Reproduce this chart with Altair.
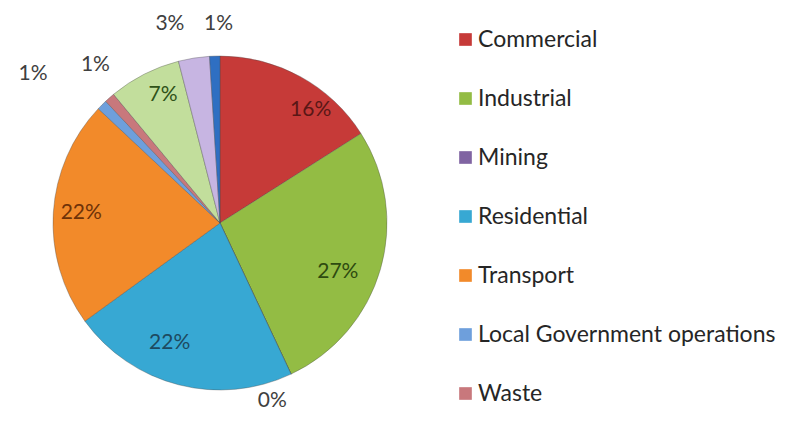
import altair as alt
import pandas as pd

categories = ["Commercial", "Industrial", "Mining", "Residential", "Transport",
              "Local Government operations", "Waste", "Agriculture", "Fugitive emissions", "Other"]
shares = [16, 27, 0, 22, 22, 1, 1, 7, 3, 1]
labels = ["16%", "27%", "0%", "22%", "22%", "1%", "1%", "7%", "3%", "1%"]
legend_items = categories[:7]

slice_colors = ["#C63A38", "#93BC44", "#8064A2", "#37A8D3", "#F28A2A",
                "#6E9FDC", "#C8787C", "#C2DE9C", "#C7B5E2", "#2F6FC2"]
label_colors = ["#5A1716", "#2E4A10", "#404040", "#1D4A60", "#6E3208",
                "#404040", "#404040", "#2F5218", "#404040", "#404040"]

# label placement style: (radius, dx, dy) per category
label_style = {
    "Commercial": (130, 28, 1),
    "Industrial": (130, -7, 13),
    "Residential": (130, -18, -6),
    "Transport": (130, -9, -2),
    "Agriculture": (130, 2, -12),
    "Mining": (205, -35, -7),
    "Local Government operations": (205, -42, -4),
    "Waste": (205, 11, -4),
    "Fugitive emissions": (205, -18, 3),
    "Other": (205, 5, 6),
}

df = pd.DataFrame({"category": categories, "share": shares, "label": labels,
                   "idx": list(range(len(categories)))})

FONT = "Lato"
cx, cy = 212, 215

theta = alt.Theta("share:Q", stack=True)
order = alt.Order("idx:Q", sort="ascending")

base = alt.Chart(df)

pie = base.mark_arc(outerRadius=167, stroke="#4a4a4a", strokeWidth=0.6, strokeOpacity=0.6).encode(
    theta=theta,
    order=order,
    x=alt.value(cx), y=alt.value(cy),
    color=alt.Color("category:N", sort=categories,
                    scale=alt.Scale(domain=categories, range=slice_colors),
                    legend=alt.Legend(values=legend_items, title=None, orient="none",
                                      legendX=446, legendY=20, symbolType="square",
                                      symbolSize=160, symbolStrokeWidth=0,
                                      labelFont=FONT, labelFontSize=23, labelColor="#262626",
                                      rowPadding=35, labelOffset=1, padding=0,
                                      labelLimit=400)),
)

def text_layer(cat):
    radius, dx, dy = label_style[cat]
    return base.transform_calculate(
        shown=f"datum.category == '{cat}' ? datum.label : ''"
    ).mark_text(radius=radius, font=FONT, fontSize=21, dx=dx, dy=dy).encode(
        theta=theta,
        order=order,
        x=alt.value(cx), y=alt.value(cy),
        text="shown:N",
        color=alt.Color("category:N", scale=alt.Scale(domain=categories, range=label_colors),
                        legend=None),
    )

layers = [pie] + [text_layer(c) for c in label_style]

chart = alt.layer(*layers).resolve_scale(color="independent").properties(
    width=782, height=405, padding=0, autosize="none",
    background="white"
).configure_view(stroke=None)

chart.save("out.html", embed_options={"renderer": "svg", "actions": False})
